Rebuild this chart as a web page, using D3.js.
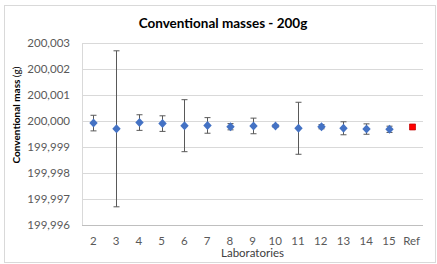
<!DOCTYPE html>
<meta charset="utf-8">
<script src="https://d3js.org/d3.v7.min.js"></script>
<style>
  body { margin: 0; background: #fff; }
  text { font-family: Lato, "Open Sans", sans-serif; }
</style>
<div id="chart"></div>
<script>
    // data
    var labs = ["2","3","4","5","6","7","8","9","10","11","12","13","14","15","Ref"];
    var masses = [199.99992, 199.99970, 199.99994, 199.99990, 199.99982, 199.99983, 199.99978,
                  199.99981, 199.99981, 199.99972, 199.99978, 199.99972, 199.99969, 199.99968, 199.99977];
    var uncert = [0.00030, 0.00300, 0.00030, 0.00030, 0.00100, 0.00030, 0.00012,
                  0.00030, 0.00005, 0.00100, 0.00008, 0.00025, 0.00020, 0.00012, 0];
    var yTicks = [199.996, 199.997, 199.998, 199.999, 200.000, 200.001, 200.002, 200.003];

    var W = 437, H = 264;
    var margin = {top: 43, right: 14, bottom: 39, left: 82};

    var svg = d3.select("#chart")
        .append("svg")
            .attr("width", W)
            .attr("height", H);

    // chart frame
    svg.append("rect")
        .attr("x", 4.5).attr("y", 5.5)
        .attr("width", 431).attr("height", 257)
        .attr("fill", "#fff")
        .attr("stroke", "#d9d9d9");

    var x = d3.scaleBand()
        .domain(labs)
        .range([margin.left, W - margin.right]);

    var y = d3.scaleLinear()
        .domain([199.996, 200.003])
        .range([H - margin.bottom, margin.top]);

    var fmt = function (v) { return d3.format(".3f")(v).replace(".", ","); };

    // gridlines
    svg.append("g")
        .selectAll("line")
        .data(yTicks)
        .enter().append("line")
        .attr("x1", margin.left)
        .attr("x2", W - margin.right)
        .attr("y1", function (d) { return Math.round(y(d)) + 0.5; })
        .attr("y2", function (d) { return Math.round(y(d)) + 0.5; })
        .attr("stroke", function (d, i) { return i === 0 ? "#bfbfbf" : "#d9d9d9"; });

    svg.append("line")
        .attr("x1", margin.left + 0.5).attr("x2", margin.left + 0.5)
        .attr("y1", y(200.003)).attr("y2", y(199.996))
        .attr("stroke", "#d9d9d9");

    // y axis labels
    var yAxis = d3.axisLeft(y).tickValues(yTicks).tickFormat(fmt).tickSize(0).tickPadding(12);
    var gy = svg.append("g")
        .attr("transform", "translate(" + margin.left + ",0)")
        .call(yAxis);
    gy.select(".domain").remove();
    gy.selectAll("text")
        .attr("fill", "#595959")
        .style("font-size", "11.5px")
        .style("font-family", "Lato, sans-serif");

    // x axis labels
    var xAxis = d3.axisBottom(x).tickSize(0).tickPadding(12);
    var gx = svg.append("g")
        .attr("transform", "translate(0," + (H - margin.bottom) + ")")
        .call(xAxis);
    gx.select(".domain").remove();
    gx.selectAll("text")
        .attr("fill", "#595959")
        .style("font-size", "11.5px")
        .style("font-family", "Lato, sans-serif");

    var data = labs.map(function (d, i) {
        return {lab: d, m: masses[i], u: uncert[i]};
    });

    // error bars
    var eb = svg.append("g")
        .attr("stroke", "#595959")
        .attr("stroke-width", 1)
        .selectAll("g")
        .data(data.filter(function (d) { return d.u > 0; }))
        .enter().append("g");

    var cx = function (d) { return Math.round(x(d.lab) + x.bandwidth() / 2) + 0.5; };

    eb.append("line")
        .attr("x1", cx).attr("x2", cx)
        .attr("y1", function (d) { return y(d.m + d.u); })
        .attr("y2", function (d) { return y(d.m - d.u); });
    eb.append("line")
        .attr("x1", function (d) { return cx(d) - 3; })
        .attr("x2", function (d) { return cx(d) + 3; })
        .attr("y1", function (d) { return y(d.m + d.u); })
        .attr("y2", function (d) { return y(d.m + d.u); });
    eb.append("line")
        .attr("x1", function (d) { return cx(d) - 3; })
        .attr("x2", function (d) { return cx(d) + 3; })
        .attr("y1", function (d) { return y(d.m - d.u); })
        .attr("y2", function (d) { return y(d.m - d.u); });

    // markers
    svg.append("g")
        .selectAll("path")
        .data(data)
        .enter().append("path")
        .attr("transform", function (d) { return "translate(" + cx(d) + "," + y(d.m) + ")"; })
        .attr("d", function (d) {
            return d.lab === "Ref" ? "M-3,-3H3V3H-3Z" : "M0,-4.5L4.2,0L0,4.5L-4.2,0Z";
        })
        .attr("fill", function (d) { return d.lab === "Ref" ? "#ff0000" : "#4472c4"; })
        .attr("stroke", function (d) { return d.lab === "Ref" ? "#c00000" : "none"; })
        .attr("stroke-width", 0.7);

    // titles
    svg.append("text")
        .attr("x", 223).attr("y", 28)
        .attr("text-anchor", "middle")
        .attr("fill", "#000")
        .style("font-size", "13.5px")
        .style("font-weight", "bold")
        .text("Conventional masses - 200g");

    svg.append("text")
        .attr("x", (margin.left + W - margin.right) / 2).attr("y", 257)
        .attr("text-anchor", "middle")
        .attr("fill", "#404040")
        .style("font-size", "11.5px")
        .text("Laboratories");

    var yt = svg.append("text")
        .attr("transform", "translate(20," + 115 + ") rotate(-90)")
        .attr("text-anchor", "middle")
        .attr("fill", "#000")
        .style("font-size", "10px");
    yt.append("tspan").style("font-weight", "bold").text("Conventional mass ");
    yt.append("tspan").text("(g)");
</script>
